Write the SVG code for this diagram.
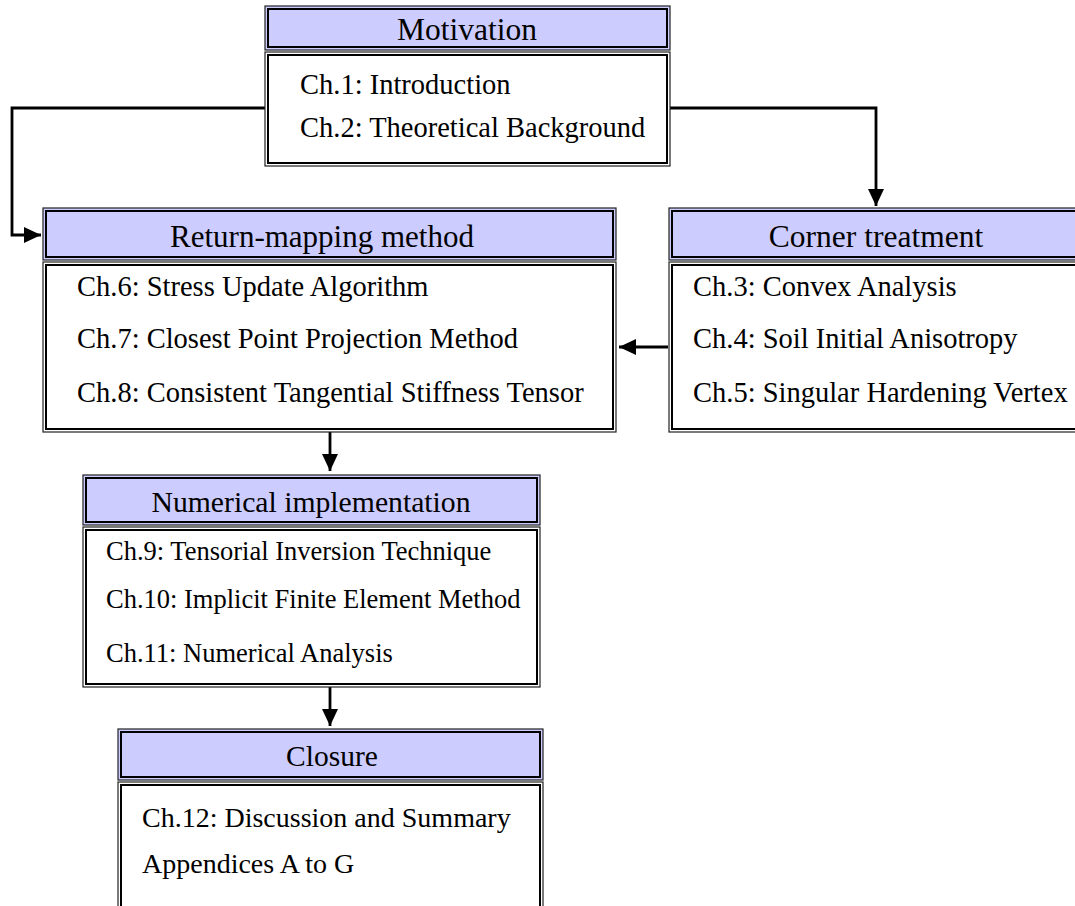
<svg xmlns="http://www.w3.org/2000/svg" width="1075" height="906" viewBox="0 0 1075 906">
<style>
.hdr{fill:#ccccff;stroke:#222;stroke-width:1.2}
.bdy{fill:#fff;stroke:#222;stroke-width:1.2}
.in{fill:none;stroke:#000;stroke-width:2}
.ht{font-family:"Liberation Serif",serif;font-size:31px;fill:#000;text-anchor:middle}
.bt{font-family:"Liberation Serif",serif;font-size:28.5px;fill:#000}
.sm{font-size:26.5px}
.con{fill:none;stroke:#000;stroke-width:2.8;marker-end:url(#arr)}
</style>
<defs>
<marker id="arr" markerUnits="userSpaceOnUse" markerWidth="18" markerHeight="16" refX="17" refY="8" orient="auto">
<path d="M0,0 L17,8 L0,16 z" fill="#000"/>
</marker>
</defs>
<rect width="1075" height="906" fill="#fff"/>
<g id="connectors">
<path class="con" d="M265,108 H12 V235 H41"/>
<path class="con" d="M670,108 H876 V206"/>
<path class="con" d="M668,347 H619"/>
<path class="con" d="M330,432 V471"/>
<path class="con" d="M330,687 V726"/>
</g>
<g id="motivation">
<rect class="hdr" x="265" y="6" width="405" height="44"/>
<rect class="in" x="268" y="9" width="399" height="38"/>
<text class="ht" x="467" y="40" style="font-size:31.5px">Motivation</text>
<rect class="bdy" x="265" y="52" width="405" height="114"/>
<rect class="in" x="268" y="55" width="399" height="108"/>
<text class="bt" x="300" y="94">Ch.1: Introduction</text>
<text class="bt" x="300" y="137">Ch.2: Theoretical Background</text>
</g>
<g id="return-mapping">
<rect class="hdr" x="43" y="208" width="573" height="52"/>
<rect class="in" x="46" y="211" width="567" height="46"/>
<text class="ht" x="322" y="247">Return-mapping method</text>
<rect class="bdy" x="43" y="262" width="573" height="170"/>
<rect class="in" x="46" y="265" width="567" height="164"/>
<text class="bt" x="77" y="296">Ch.6: Stress Update Algorithm</text>
<text class="bt" x="77" y="348">Ch.7: Closest Point Projection Method</text>
<text class="bt" x="77" y="402">Ch.8: Consistent Tangential Stiffness Tensor</text>
</g>
<g id="corner-treatment">
<rect class="hdr" x="669" y="208" width="420" height="52"/>
<rect class="in" x="672" y="211" width="414" height="46"/>
<text class="ht" x="876" y="247" style="font-size:31.5px">Corner treatment</text>
<rect class="bdy" x="669" y="262" width="420" height="170"/>
<rect class="in" x="672" y="265" width="414" height="164"/>
<text class="bt" x="693" y="296">Ch.3: Convex Analysis</text>
<text class="bt" x="693" y="348">Ch.4: Soil Initial Anisotropy</text>
<text class="bt" x="693" y="402">Ch.5: Singular Hardening Vertex</text>
</g>
<g id="numerical-implementation">
<rect class="hdr" x="83" y="475" width="457" height="50"/>
<rect class="in" x="86" y="478" width="451" height="44"/>
<text class="ht" x="311" y="512" style="font-size:29.7px">Numerical implementation</text>
<rect class="bdy" x="83" y="527" width="457" height="160"/>
<rect class="in" x="86" y="530" width="451" height="154"/>
<text class="bt sm" x="106" y="560">Ch.9: Tensorial Inversion Technique</text>
<text class="bt sm" x="106" y="608">Ch.10: Implicit Finite Element Method</text>
<text class="bt sm" x="106" y="662">Ch.11: Numerical Analysis</text>
</g>
<g id="closure">
<rect class="hdr" x="118" y="729" width="425" height="51"/>
<rect class="in" x="121" y="732" width="419" height="45"/>
<text class="ht" x="332" y="766" style="font-size:29.5px">Closure</text>
<rect class="bdy" x="118" y="782" width="425" height="140"/>
<rect class="in" x="121" y="785" width="419" height="134"/>
<text class="bt" x="142" y="827" style="font-size:28px">Ch.12: Discussion and Summary</text>
<text class="bt" x="142" y="873" style="font-size:28px">Appendices A to G</text>
</g>
</svg>
